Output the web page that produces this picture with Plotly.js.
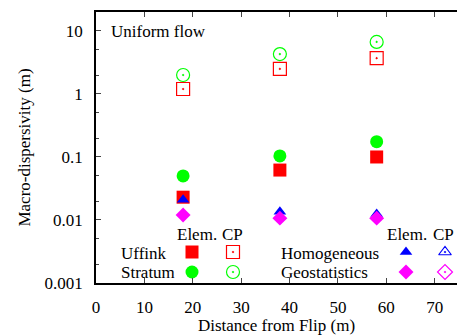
<!DOCTYPE html>
<html>
<head>
<meta charset="utf-8">
<script src="https://cdn.plot.ly/plotly-3.0.1.min.js"></script>
<style>
html,body{margin:0;padding:0;background:#fff;}
#chart{width:457px;height:335px;}
</style>
</head>
<body>
<div id="chart"></div>
<script>
// ---- data ----
const distance = [18, 38, 58];
const uffinkElem = [0.023, 0.062, 0.10];
const uffinkCP = [1.2, 2.5, 3.7];
const stratumElem = [0.05, 0.104, 0.175];
const stratumCP = [2.0, 4.3, 6.7];
const homogElem = [0.021, 0.0135, 0.0125];
const geostatElem = [0.012, 0.0107, 0.0107];
const yTickVals = [0.001, 0.01, 0.1, 1, 10];
const yTickText = ["0.001", "0.01", "0.1", "1", "10"];
const xTickVals = [0, 10, 20, 30, 40, 50, 60, 70];

const RED = '#ff0000', GREEN = '#00ff00', BLUE = '#0000ff', MAG = '#ff00ff';
function F() { return {family: 'Times New Roman', size: 17, color: 'black'}; }

function mk(symbol, color, size) {
  const open = symbol.indexOf('open') >= 0;
  return {symbol: symbol, size: size, color: color,
          line: {color: color, width: open ? 1.2 : 0}};
}
function series(y, symbol, color, size) {
  return {x: distance, y: y, type: 'scatter', mode: 'markers', showlegend: false,
          marker: mk(symbol, color, size), hoverinfo: 'skip'};
}

const traces = [
  series(stratumCP, 'circle-open-dot', GREEN, 13),
  series(uffinkCP, 'square-open-dot', RED, 13),
  series(stratumElem, 'circle', GREEN, 13),
  series(uffinkElem, 'square', RED, 13),
  series(homogElem, 'triangle-up', BLUE, 11),
  series(geostatElem, 'diamond', MAG, 11.5)
];

// ---- key (legend) drawn on an overlay axis in pixel units of the plot area ----
const keyItems = [
  {x: 96, y: 240, symbol: 'square', color: RED, size: 13},
  {x: 96, y: 260, symbol: 'circle', color: GREEN, size: 13},
  {x: 137, y: 240, symbol: 'square-open-dot', color: RED, size: 13},
  {x: 137, y: 260, symbol: 'circle-open-dot', color: GREEN, size: 13},
  {x: 310, y: 240, symbol: 'triangle-up', color: BLUE, size: 11},
  {x: 310, y: 260, symbol: 'diamond', color: MAG, size: 11.5},
  {x: 349, y: 240, symbol: 'triangle-up-open-dot', color: BLUE, size: 11},
  {x: 349, y: 260, symbol: 'diamond-open-dot', color: MAG, size: 11.5}
];
keyItems.forEach(k => {
  traces.push({x: [k.x], y: [k.y], xaxis: 'x2', yaxis: 'y2', type: 'scatter',
               mode: 'markers', showlegend: false, hoverinfo: 'skip',
               marker: mk(k.symbol, k.color, k.size)});
});

function txt(text, x, y, xanchor) {
  return {text: text, x: x, y: y, xref: 'x2', yref: 'y2', showarrow: false,
          xanchor: xanchor || 'center', yanchor: 'middle', font: F()};
}
const annotations = [
  txt('Uniform flow', 13, 19, 'left'),
  txt('Elem.', 101, 222),
  txt('CP', 136, 222),
  txt('Uffink', 23, 241, 'left'),
  txt('Stratum', 23, 260, 'left'),
  txt('Elem.', 311, 222),
  txt('CP', 347, 222),
  txt('Homogeneous', 183, 241, 'left'),
  txt('Geostatistics', 183, 260, 'left')
];

const layout = {
  width: 457, height: 335,
  margin: {l: 96, r: 0, t: 12, b: 52},
  paper_bgcolor: '#fff', plot_bgcolor: '#fff',
  font: F(),
  xaxis: {
    range: [0, 74.6], tickvals: xTickVals, ticks: 'inside', ticklen: 5, tickwidth: 1,
    showline: true, linecolor: '#000', linewidth: 1.5, mirror: 'ticks', showgrid: false,
    zeroline: false, ticklabelstandoff: 8, tickfont: F(),
    title: {text: 'Distance from Flip (m)', font: F(), standoff: 8}
  },
  yaxis: {
    type: 'log', range: [-3, Math.log10(20)], tickvals: yTickVals, ticktext: yTickText,
    ticks: 'inside', ticklen: 5, tickwidth: 1,
    minor: {dtick: 'D2', ticks: 'inside', ticklen: 3, tickwidth: 1, showgrid: false},
    showline: true, linecolor: '#000', linewidth: 1.5, mirror: false, showgrid: false,
    zeroline: false, ticklabelstandoff: 8, tickfont: F(),
    title: {text: 'Macro-dispersivity (m)', font: F(), standoff: 10}
  },
  xaxis2: {overlaying: 'x', range: [0, 361], visible: false, fixedrange: true},
  yaxis2: {overlaying: 'y', range: [271, 0], visible: false, fixedrange: true},
  annotations: annotations,
  showlegend: false
};

Plotly.newPlot('chart', traces, layout, {displayModeBar: false});
</script>
</body>
</html>
